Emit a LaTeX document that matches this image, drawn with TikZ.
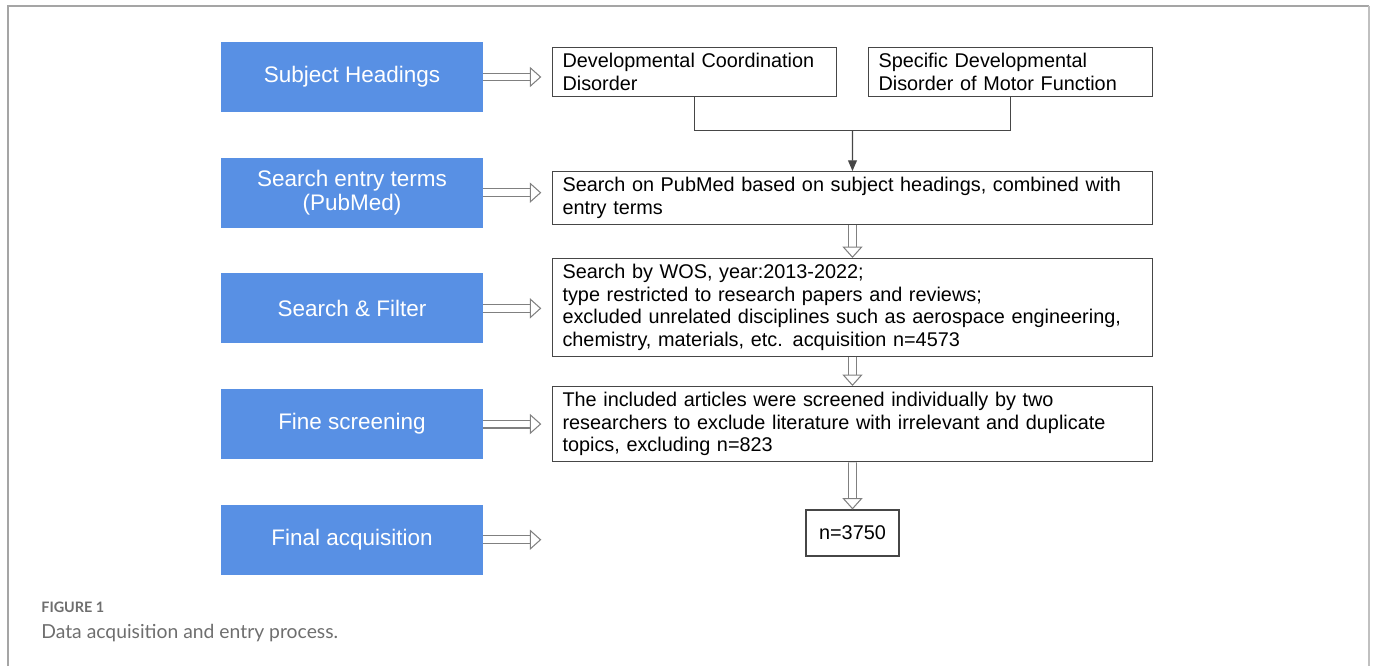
\documentclass[tikz,border=0pt]{standalone}
\usepackage{fontspec}
\setmainfont{Liberation Sans}
\newfontfamily\captionfont{Lato}
\usetikzlibrary{positioning, arrows.meta, calc}
\definecolor{headblue}{RGB}{88,144,228}
\definecolor{framegray}{RGB}{165,165,165}
\definecolor{edgegray}{RGB}{70,70,70}
\definecolor{capgray}{RGB}{110,110,110}

\tikzset{
  headbox/.style={fill=headblue, text=white, minimum width=5.24cm, minimum height=1.4cm,
    align=center, font=\fontsize{12.8}{14}\selectfont},
  infobox/.style={draw=edgegray, line width=0.6pt, anchor=north west, inner xsep=0.2cm,
    align=left, font=\fontsize{11.3}{12.8}\selectfont},
  hollow/.style={draw=gray, line width=0.6pt, double=white, double distance=3.9pt,
    -{Triangle[open, length=6.5pt, width=11.5pt]}}
}

\begin{document}
\begin{tikzpicture}[x=0.02cm, y=-0.02cm]
\useasboundingbox (0,0) rectangle (1375,666);
% Rahmen
\draw[framegray, line width=1.1pt] (8,666) -- (8,6) -- (1369,6);
\draw[framegray!70, line width=1.4pt] (1369,6) -- (1369,666);

% Stufen
\node[headbox] (subj) at (352,77) {Subject Headings};
\node[headbox, below=0.9cm of subj] (entry) {Search entry terms\\(PubMed)};
\node[headbox, below=0.9cm of entry] (filter) {Search \& Filter};
\node[headbox, below=0.9cm of filter] (fine) {Fine screening};
\node[headbox, below=0.9cm of fine] (final) {Final acquisition};

% Inhalte
\node[infobox, text width=5.28cm, minimum height=0.96cm] (dcd) at (552,47)
  {Developmental Coordination\\Disorder};
\node[infobox, text width=5.28cm, minimum height=0.96cm] (sddmf) at (868,47)
  {Specific Developmental\\Disorder of Motor Function};
\node[infobox, text width=11.6cm, minimum height=0.9cm] (pubmed) at (552,171)
  {Search on PubMed based on subject headings, combined with\\entry terms};
\node[infobox, text width=11.6cm, minimum height=1.94cm] (wos) at (552,258)
  {Search by WOS, year:2013-2022;\\type restricted to research papers and reviews;\\
   excluded unrelated disciplines such as aerospace engineering,\\
   chemistry, materials, etc. acquisition n=4573};
\node[infobox, text width=11.6cm, minimum height=1.5cm] (screen) at (552,386)
  {The included articles were screened individually by two\\
   researchers to exclude literature with irrelevant and duplicate\\
   topics, excluding n=823};
\node[draw=edgegray, line width=0.6pt, minimum width=1.86cm, minimum height=0.92cm,
  font=\fontsize{11.3}{12.8}\selectfont] (count) at (852.5,533) {n=3750};

% Verbindungen
\coordinate (merge) at ($(dcd.south)!0.5!(sddmf.south) + (0,34)$);
\draw[edgegray, line width=0.6pt] (dcd.south) |- (merge) -| (sddmf.south);
\draw[edgegray, line width=0.6pt, -{Triangle[length=6pt, width=5pt]}] (merge) -- (pubmed.north);
\foreach \b in {subj, entry, filter, fine, final} {
  \coordinate (\b-tip) at ([xshift=1.16cm]\b.east);
  \draw[hollow] (\b.east) -- (\b-tip);
}
\draw[hollow] (pubmed.south) -- (wos.north);
\draw[hollow] (wos.south) -- (screen.north);
\draw[hollow] (screen.south) -- (count.north);

% Bildunterschrift
\node[anchor=base west, inner sep=0pt, text=capgray, font=\captionfont\bfseries\fontsize{8.2}{9}\selectfont] (fig) at (41,612) {FIGURE 1};
\node[anchor=base west, inner sep=0pt, text=capgray, font=\captionfont\fontsize{11}{13}\selectfont] (cap) at (41,638) {Data acquisition and entry process.};
\end{tikzpicture}
\end{document}
